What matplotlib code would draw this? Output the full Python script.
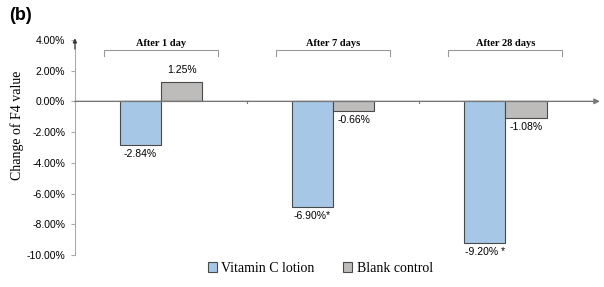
import numpy as np
import matplotlib.pyplot as plt

groups = ["After 1 day", "After 7 days", "After 28 days"]
vitc = [-2.84, -6.90, -9.20]
blank = [1.25, -0.66, -1.08]
vitc_labels = ["-2.84%", "-6.90%*", "-9.20% *"]
blank_labels = ["1.25%", "-0.66%", "-1.08%"]
yticks = [4, 2, 0, -2, -4, -6, -8, -10]

fig = plt.figure(figsize=(6.04, 2.87), dpi=100)
ax = fig.add_axes([0.124, 0.1115, 0.855, 0.7495])

x = np.arange(len(groups))
w = 0.24
ax.bar(x - w/2, vitc, w, color="#A7C7E7", edgecolor="#4a4a4a", linewidth=0.8, label="Vitamin C lotion")
ax.bar(x + w/2, blank, w, color="#BEBCBA", edgecolor="#4a4a4a", linewidth=0.8, label="Blank control")

ax.set_xlim(-0.5, 2.5)
ax.set_ylim(-10, 4)
ax.set_yticks(yticks)
ax.set_yticklabels([f"{t:.2f}%" for t in yticks], fontsize=7.5, family="Liberation Sans")
ax.set_xticks([])
for s in ["top", "right", "bottom"]:
    ax.spines[s].set_visible(False)
ax.spines["left"].set_color("#aaaaaa")
ax.tick_params(axis="y", length=3, color="#aaaaaa", pad=4)

# zero line with arrow, y axis arrow, group dividers
ax.annotate("", xy=(2.55, 0), xytext=(-0.5, 0), annotation_clip=False,
            arrowprops=dict(arrowstyle="-|>", color="#777777", lw=1, mutation_scale=8,
                            shrinkA=0, shrinkB=0))
ax.annotate("", xy=(-0.5, 4.1), xytext=(-0.5, 3.4), annotation_clip=False,
            arrowprops=dict(arrowstyle="-|>", color="#333333", lw=0.8, mutation_scale=6,
                            shrinkA=0, shrinkB=0))
for d in [0.5, 1.5]:
    ax.plot([d, d], [0, -0.12], color="#777777", lw=0.8)

# brackets and group labels
for i, g in enumerate(groups):
    bx0, bx1 = i - 0.33, i + 0.33
    ax.plot([bx0, bx0, bx1, bx1], [2.95, 3.35, 3.35, 2.95], color="#999999", lw=0.8, clip_on=False)
    ax.text(i, 3.75, g, ha="center", va="center", fontsize=7.5, fontweight="bold", family="Liberation Serif")

# value labels
for i in range(len(groups)):
    ax.text(i - w/2, vitc[i] - 0.25, vitc_labels[i], ha="center", va="top", fontsize=7.5, family="Liberation Sans")
    if blank[i] > 0:
        ax.text(i + w/2, blank[i] + 0.45, blank_labels[i], ha="center", va="bottom", fontsize=7.5, family="Liberation Sans")
    else:
        ax.text(i + w/2, blank[i] - 0.25, blank_labels[i], ha="center", va="top", fontsize=7.5, family="Liberation Sans")

fig.text(0.029, 1 - 125 / 287, "Change of F4 value", rotation=90, ha="center", va="center",
         fontsize=10, family="Liberation Serif")

fig.text(0.015, 0.945, "(b)", fontsize=13, fontweight="bold", family="Liberation Sans", va="center")

fig.legend(loc="center", bbox_to_anchor=(0.53, 0.065), ncol=2, frameon=False,
           prop={"family": "Liberation Serif", "size": 10}, handlelength=0.7, handleheight=0.7,
           handletextpad=0.3, columnspacing=2.0)

fig.savefig("out.png", dpi=100)
